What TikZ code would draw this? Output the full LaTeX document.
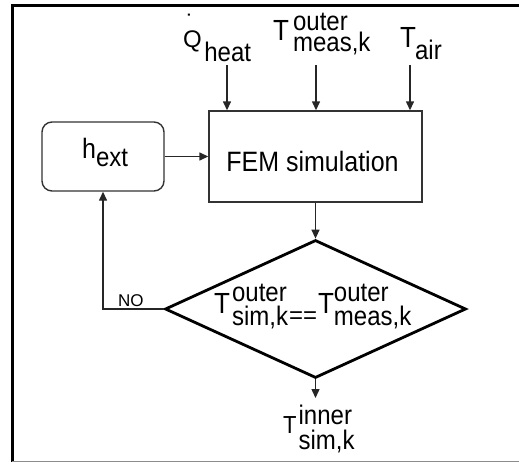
\documentclass[tikz,border=0pt]{standalone}
\usepackage{graphicx}
\usepackage{fontspec}
\setmainfont{Liberation Sans}
\usetikzlibrary{arrows.meta,shapes.geometric}
\newcommand\subsize{\fontsize{24pt}{24pt}\selectfont}
\newcommand\vst[1]{\scalebox{1}[1.12]{#1}}
\newcommand\Tbig{\vst{\fontsize{26pt}{26pt}\selectfont T}}
\newcommand\Tsmall{\vst{\fontsize{22pt}{22pt}\selectfont T}}
\newcommand\Qdot{\raisebox{0pt}{\fontsize{24pt}{24pt}\selectfont\rlap{\hspace*{3pt}\raisebox{16pt}{\char"02D9}}Q}}
% #1 main letter, #2 gap, #3 raise of sup, #4 sup, #5 drop of sub, #6 sub
\newcommand\lab[6]{#1\hspace*{#2}\rlap{\raisebox{#3}{\vst{\subsize #4}}}\raisebox{-#5}{\vst{\subsize #6}}}
\begin{document}
\begin{tikzpicture}[x=1pt,y=-1pt,
  boxline/.style={draw=black!80,line width=1.4pt},
  arr/.style={draw=black!85,line width=1.4pt,-{Triangle[length=9pt,width=8pt]}},
  txt/.style={anchor=base west,inner sep=0pt}]
\useasboundingbox (0,0) rectangle (519,463);
% frame
\draw[line width=3pt] (11,5.5) -- (519,5.5);
\draw[line width=3pt] (12.5,4) -- (12.5,462);
\draw[black!45,line width=1.5pt] (12,461.5) -- (519,461.5);
% boxes
\node[boxline,minimum width=213pt,minimum height=91pt,inner sep=0pt] (fem) at (315.5,156.5) {};
\node[anchor=base,inner sep=0pt] (femtext) at (312.5,171) {\vst{\fontsize{25pt}{25pt}\selectfont FEM simulation}};
\node[boxline,rounded corners=10pt,minimum width=122pt,minimum height=69pt,inner sep=0pt] (hext) at (103,156.5) {};
\node[txt] (hexttext) at (82,158) {\lab{\vst{\fontsize{25pt}{25pt}\selectfont h}}{0pt}{0pt}{}{8pt}{ext}};
\node[diamond,draw=black,line width=2.8pt,minimum width=301pt,minimum height=138pt,inner sep=0pt] (dec) at (315.5,309) {};
\node[txt] (dectext) at (214,313) {\lab{\Tbig}{2pt}{11.5pt}{outer}{12pt}{sim,k}\hspace*{1pt}\raisebox{-10pt}{\subsize ==}\hspace*{1pt}\lab{\Tbig}{0pt}{11.5pt}{outer}{12pt}{meas,k}};
% input labels
\node[txt] (qlab) at (183,47) {\lab{\Qdot}{2.5pt}{0pt}{}{14pt}{heat}};
\node[txt] (tmlab) at (273,40) {\lab{\Tbig}{4pt}{10pt}{outer}{12pt}{meas,k}};
\node[txt] (talab) at (400,47) {\lab{\Tbig}{-1pt}{0pt}{}{12pt}{air}};
\node[txt] (outlab) at (283,433) {\lab{\Tsmall}{2pt}{9pt}{inner}{16pt}{sim,k}};
\node[txt,font=\fontsize{17pt}{17pt}\selectfont] (no) at (118,306) {NO};
% connectors
\coordinate (qin) at (227,65);
\coordinate (tmin) at (316,65);
\coordinate (tain) at (410,65);
\coordinate (outend) at (315.5,398);
\draw[arr] (qin) -- (qin |- fem.north);
\draw[arr] (tmin) -- (tmin |- fem.north);
\draw[arr] (tain) -- (tain |- fem.north);
\draw[arr] (hext.east) -- (fem.west);
\draw[arr] (fem.south) -- (dec.north);
\draw[arr] (dec.south) -- (outend);
\draw[arr] (dec.west) -| (hext.south);
\end{tikzpicture}
\end{document}
